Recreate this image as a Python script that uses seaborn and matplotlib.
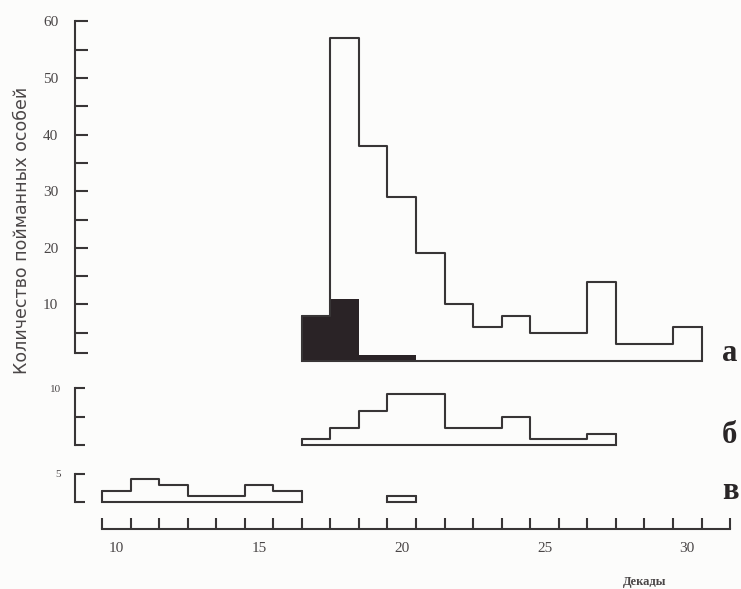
import numpy as np
import pandas as pd
import seaborn as sns
import matplotlib.pyplot as plt

# decades (x) and counts
decades_a = [17, 18, 19, 20, 21, 22, 23, 24, 25, 26, 27, 28, 29, 30]
counts_a = [8, 57, 38, 29, 19, 10, 6, 8, 5, 5, 14, 3, 3, 6]
decades_dark = [17, 18, 19, 20]
counts_dark = [8, 11, 1, 1]
decades_b = [17, 18, 19, 20, 21, 22, 23, 24, 25, 26, 27]
counts_b = [1, 3, 6, 9, 9, 3, 3, 5, 1, 1, 2]
decades_c1 = [10, 11, 12, 13, 14, 15, 16]
counts_c1 = [2, 4, 3, 1, 1, 3, 2]
decades_c2 = [20]
counts_c2 = [1]
xtick_labels = [10, 15, 20, 25, 30]

sns.set_style("white")
plt.rcParams['font.family'] = ['Liberation Serif', 'DejaVu Serif']

W, H = 741, 589
S = 5.66          # px per count
X0, DX = 102, 28.55   # px of decade 9.5, px per decade
L = 75
xl = 9.5 - (X0 - L) / DX
xr = 9.5 + (W - X0) / DX
LINE = '#383536'
DARK = '#2a2326'
TXT = '#4a4647'
LW = 1.5

fig = plt.figure(figsize=(W / 100, H / 100), dpi=100)
fig.patch.set_facecolor('#fcfcfb')


def make_ax(y0, lo, hi):
    bot = y0 - lo * S
    top = y0 - hi * S
    ax = fig.add_axes([L / W, 1 - bot / H, (W - L) / W, (bot - top) / H])
    ax.set_xlim(xl, xr)
    ax.set_ylim(lo, hi)
    ax.patch.set_alpha(0)
    for sp in ['top', 'right', 'bottom']:
        ax.spines[sp].set_visible(False)
    ax.spines['left'].set_color(LINE)
    ax.spines['left'].set_linewidth(LW)
    ax.set_xticks([])
    return ax


def outline(ax, dec, cnt):
    df = pd.DataFrame({'d': dec, 'n': cnt})
    sns.histplot(data=df, x='d', weights='n', discrete=True, element='step',
                 fill=False, color=LINE, linewidth=LW, ax=ax)
    x0, x1 = min(dec) - 0.5, max(dec) + 0.5
    ax.plot([x0, x0, x1, x1], [cnt[0], 0, 0, cnt[-1]], color=LINE, lw=LW,
            solid_joinstyle='miter')
    ax.set_xlabel('')
    ax.set_ylabel('')


# panel a
ax_a = make_ax(361, -1, 61)
dfd = pd.DataFrame({'d': decades_dark, 'n': counts_dark})
sns.histplot(data=dfd, x='d', weights='n', discrete=True, element='step',
             fill=True, color=DARK, alpha=1, linewidth=0, ax=ax_a)
outline(ax_a, decades_a, counts_a)
ax_a.spines['left'].set_bounds(1.5, 60)
ax_a.set_yticks([10, 20, 30, 40, 50, 60])
ax_a.set_yticks([1.5, 5, 15, 25, 35, 45, 55], minor=True)
ax_a.tick_params(axis='y', which='both', left=True, direction='in', length=9,
                 width=LW, color=LINE, labelsize=11, labelcolor=TXT, pad=12)
ax_a.set_xlim(xl, xr)

# panel b
ax_b = make_ax(445, -1, 11)
outline(ax_b, decades_b, counts_b)
ax_b.spines['left'].set_bounds(0, 10)
ax_b.set_yticks([0, 5, 10])
ax_b.set_yticklabels(['', '', '10'])
ax_b.tick_params(axis='y', left=True, direction='in', length=7, width=LW,
                 color=LINE, labelsize=8, labelcolor=TXT, pad=10)
ax_b.set_xlim(xl, xr)

# panel c (carries the x axis)
ax_c = make_ax(502, -(529 - 502) / S, 6)
outline(ax_c, decades_c1, counts_c1)
outline(ax_c, decades_c2, counts_c2)
ax_c.spines['left'].set_bounds(0, 5)
ax_c.set_yticks([0, 5])
ax_c.set_yticklabels(['', '5'])
ax_c.tick_params(axis='y', left=True, direction='in', length=7, width=LW,
                 color=LINE, labelsize=8, labelcolor=TXT, pad=10)
ax_c.spines['bottom'].set_visible(True)
ax_c.spines['bottom'].set_color(LINE)
ax_c.spines['bottom'].set_linewidth(LW)
ax_c.spines['bottom'].set_bounds(9.5, 31.5)
ax_c.set_xticks(np.arange(9.5, 32, 1))
ax_c.set_xticklabels([])
ax_c.set_xticks(xtick_labels, minor=True)
ax_c.set_xticklabels([str(v) for v in xtick_labels], minor=True)
ax_c.tick_params(axis='x', which='major', bottom=True, direction='in',
                 length=8, width=LW, color=LINE)
ax_c.tick_params(axis='x', which='minor', bottom=True, length=0, labelsize=11,
                 labelcolor=TXT, pad=9)
ax_c.set_xlim(xl, xr)

# panel letters
for y, s in [(361, 'а'), (443, 'б'), (499, 'в')]:
    fig.text(722 / W, 1 - y / H, s, fontsize=22, fontweight='bold',
             color='#2a2627', ha='left', va='baseline')

fig.text(22 / W, 1 - 230 / H, 'Количество пойманных особей', rotation=90,
         fontsize=12.5, color=TXT, ha='center', va='center',
         family=['DejaVu Sans'])
fig.text(645 / W, 1 - 582 / H, 'Декады', fontsize=9, fontweight='bold',
         color=TXT, ha='center', va='center')

fig.savefig('out.png', dpi=100, facecolor=fig.get_facecolor())
